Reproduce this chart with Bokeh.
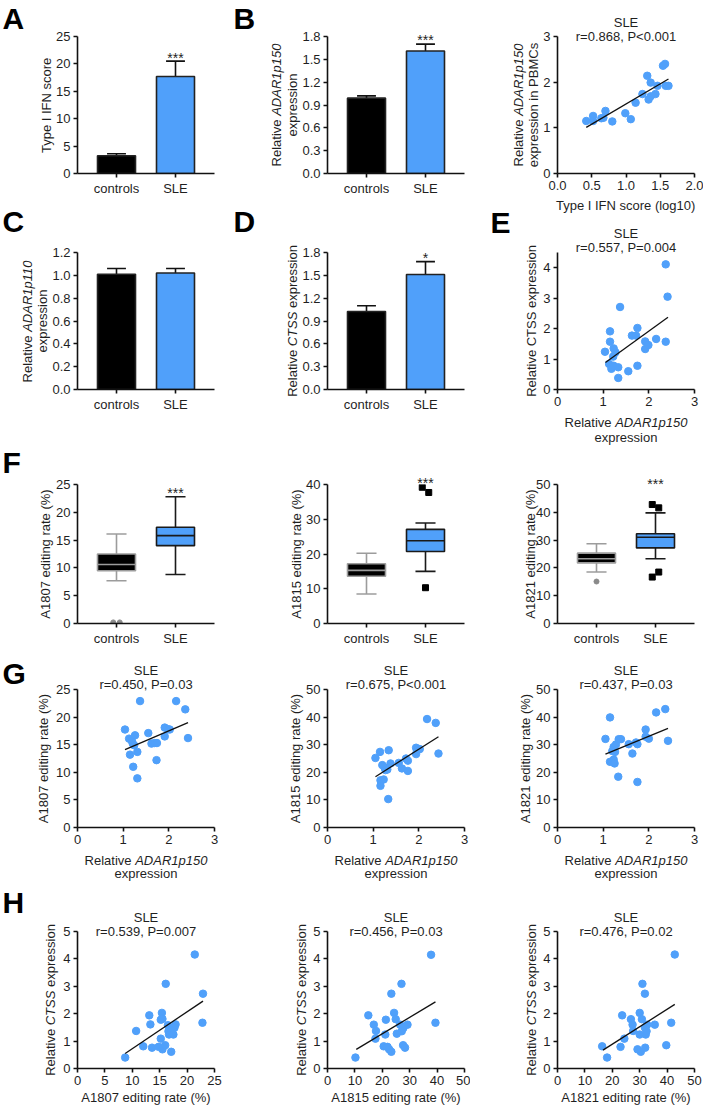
import math
from bokeh.plotting import figure
from bokeh.layouts import column, row
from bokeh.models import Label, FixedTicker, Range1d, PrintfTickFormatter
from bokeh.embed import file_html
from bokeh.resources import INLINE

FONT = "Liberation Sans"
BLUE = "#50a0fa"
INK = "#1f1f1f"
AXIS = "#111111"
GREY = "#9c9c9c"

# ------------------------------------------------------------------ data
groups = ["controls", "SLE"]

# bar panels (mean, top of SEM bar)
a_mean = [3.25, 17.7]
a_err = [3.6, 20.5]
a_star = 21.7
b_mean = [0.99, 1.61]
b_err = [1.02, 1.70]
b_star = 1.79
c_mean = [1.01, 1.02]
c_err = [1.06, 1.06]
d_mean = [1.025, 1.51]
d_err = [1.10, 1.68]
d_star = 1.77

a_yticks = [0, 5, 10, 15, 20, 25]
b_yticks = [0.0, 0.3, 0.6, 0.9, 1.2, 1.5, 1.8]
c_yticks = [0.0, 0.2, 0.4, 0.6, 0.8, 1.0, 1.2]
d_yticks = [0.0, 0.3, 0.6, 0.9, 1.2, 1.5, 1.8]

# B scatter: type I IFN score (log10) vs ADAR1p150 in PBMCs
bs_x = [0.42, 0.52, 0.52, 0.64, 0.67, 0.70, 0.80, 0.99, 1.07, 1.14, 1.24,
        1.31, 1.36, 1.33, 1.36, 1.43, 1.46, 1.54, 1.57, 1.58, 1.62]
bs_y = [1.15, 1.26, 1.15, 1.21, 1.22, 1.37, 1.14, 1.32, 1.19, 1.55, 1.74,
        2.14, 1.99, 1.62, 1.69, 1.74, 1.92, 2.36, 2.40, 1.92, 1.92]
bs_fit_x = [0.42, 1.62]
bs_fit_y = [1.01, 2.07]
bs_xticks = [0.0, 0.5, 1.0, 1.5, 2.0]
bs_yticks = [0, 1, 2, 3]

# E scatter: ADAR1p150 vs CTSS
e_x = [1.04, 1.15, 1.15, 1.13, 1.18, 1.23, 1.22, 1.23, 1.27, 1.33, 1.33, 1.37,
       1.55, 1.63, 1.72, 1.75, 1.75, 1.92, 1.92, 1.99, 2.16, 2.37, 2.37, 2.41]
e_y = [1.24, 1.91, 1.57, 0.84, 0.68, 0.78, 1.08, 1.35, 1.22, 0.73, 0.38, 2.71,
       0.60, 1.77, 1.77, 2.02, 0.78, 1.58, 1.33, 1.46, 1.66, 4.11, 1.57, 3.05]
e_fit_x = [1.05, 2.42]
e_fit_y = [0.89, 2.37]
e_xticks = [0, 1, 2, 3]
e_yticks = [0, 1, 2, 3, 4]
e_ytop = 4.5

# F box plots: whisker low, Q1, median, Q3, whisker high (controls, SLE)
f1_low = [7.7, 8.8]
f1_q1 = [9.5, 14.0]
f1_med = [10.6, 15.8]
f1_q3 = [12.5, 17.3]
f1_high = [16.1, 22.8]
f1_out_group = [0, 0]
f1_out_val = [0.2, 0.2]
f1_star = 24.1

f2_low = [8.5, 15.0]
f2_q1 = [13.6, 20.7]
f2_med = [15.3, 23.8]
f2_q3 = [17.2, 27.1]
f2_high = [20.2, 28.9]
f2_out_group = [1, 1, 1]
f2_out_val = [39.2, 37.7, 10.3]
f2_star = 41.4

f3_low = [18.5, 23.3]
f3_q1 = [21.8, 27.2]
f3_med = [23.3, 31.0]
f3_q3 = [25.3, 32.3]
f3_high = [28.7, 39.8]
f3_out_group = [0, 1, 1, 1, 1]
f3_out_val = [15.1, 42.8, 41.6, 16.7, 18.5]
f3_star = 51.1

f1_yticks = [0, 5, 10, 15, 20, 25]
f2_yticks = [0, 10, 20, 30, 40]
f3_yticks = [0, 10, 20, 30, 40, 50]

# G scatters: ADAR1p150 vs editing rates
g1_x = [1.04, 1.13, 1.15, 1.19, 1.21, 1.24, 1.26, 1.22, 1.31, 1.31, 1.37, 1.55,
        1.62, 1.69, 1.74, 1.73, 1.91, 1.91, 1.98, 2.02, 2.16, 2.36, 2.42]
g1_y = [17.75, 16.1, 13.2, 15.7, 15.2, 14.9, 16.7, 11.0, 8.9, 13.7, 22.9, 17.1,
        15.2, 15.3, 15.3, 12.2, 18.1, 16.5, 17.8, 17.75, 22.9, 21.4, 16.2]
g1_fit_x = [1.04, 2.42]
g1_fit_y = [14.1, 19.0]

g2_x = [1.05, 1.15, 1.16, 1.16, 1.20, 1.23, 1.25, 1.27, 1.31, 1.33, 1.34, 1.38,
        1.56, 1.63, 1.72, 1.76, 1.76, 1.94, 1.94, 1.96, 2.02, 2.18, 2.37, 2.43]
g2_y = [25.2, 27.4, 17.1, 15.1, 22.6, 17.4, 21.7, 20.8, 21.0, 10.3, 28.0, 23.2,
        23.4, 21.4, 25.0, 24.2, 20.5, 28.9, 26.6, 28.0, 28.4, 39.3, 37.9, 26.8]
g2_fit_x = [1.05, 2.43]
g2_fit_y = [18.4, 32.9]

g3_x = [1.05, 1.15, 1.15, 1.20, 1.23, 1.23, 1.25, 1.26, 1.28, 1.34, 1.39, 1.33,
        1.56, 1.64, 1.72, 1.75, 1.75, 1.93, 1.93, 2.00, 2.16, 2.36, 2.42]
g3_y = [32.1, 39.9, 23.8, 27.7, 29.2, 24.6, 23.2, 27.4, 30.1, 32.0, 32.0, 18.4,
        30.2, 26.8, 30.8, 30.2, 16.5, 35.5, 32.9, 32.2, 41.7, 42.9, 31.4]
g3_fit_x = [1.05, 2.42]
g3_fit_y = [26.6, 35.9]

g_xticks = [0, 1, 2, 3]
g1_yticks = [0, 5, 10, 15, 20, 25]
g23_yticks = [0, 10, 20, 30, 40, 50]

# H scatters: editing rates vs CTSS
h1_x = [8.7, 10.7, 12.0, 13.1, 13.3, 13.6, 14.8, 15.2, 15.2, 15.4, 15.5, 15.5,
        16.0, 16.1, 16.5, 16.6, 16.7, 17.1, 17.5, 17.7, 17.9, 21.4, 22.9, 22.8]
h1_y = [0.40, 1.37, 0.81, 1.94, 1.61, 0.76, 0.79, 1.09, 1.78, 2.03, 0.70, 1.81,
        0.85, 3.09, 1.58, 1.36, 1.24, 0.61, 1.24, 1.49, 1.61, 4.16, 2.73, 1.67]
h1_fit_x = [8.7, 22.9]
h1_fit_y = [0.55, 2.46]

h2_x = [10.2, 14.9, 16.9, 17.7, 17.5, 20.5, 21.3, 21.1, 21.9, 22.5, 23.3, 23.3,
        24.3, 24.9, 25.3, 26.5, 27.0, 27.1, 27.7, 27.6, 28.3, 29.2, 37.8, 39.4]
h2_y = [0.40, 1.94, 1.60, 1.37, 1.09, 0.81, 1.78, 1.24, 0.79, 0.70, 0.61, 2.73,
        2.03, 1.80, 1.27, 1.60, 3.09, 1.36, 1.48, 0.85, 0.76, 1.60, 4.15, 1.67]
h2_fit_x = [10.5, 39.4]
h2_fit_y = [0.70, 2.43]

h3_x = [16.3, 18.1, 23.0, 23.6, 24.4, 26.8, 27.4, 27.6, 29.2, 30.0, 30.0, 30.4,
        30.8, 31.0, 31.9, 31.9, 32.0, 32.2, 32.5, 32.7, 35.5, 39.7, 41.5, 42.8]
h3_y = [0.81, 0.40, 0.79, 1.94, 1.09, 1.80, 1.60, 1.37, 0.70, 2.03, 1.24, 0.61,
        1.80, 3.09, 2.73, 1.49, 0.76, 1.24, 1.36, 1.60, 1.60, 0.85, 1.67, 4.16]
h3_fit_x = [16.6, 42.8]
h3_fit_y = [0.67, 2.34]

h1_xticks = [0, 5, 10, 15, 20, 25]
h23_xticks = [0, 10, 20, 30, 40, 50]
h_yticks = [0, 1, 2, 3, 4, 5]

# ------------------------------------------------------------------ layout / style
COLS = [(77, 16), (97, 6), (87, 9)]          # border left/right per column
FW = 137
ROWS = [(36, 137, 42), (37, 137, 56), (39, 139, 27), (39, 138, 58), (46, 137, 38)]
TOTAL_W = sum(l + FW + r for l, r in COLS)
TOTAL_H = sum(t + h + b for t, h, b in ROWS)

FL, FT = [], []
_x = 0
for l, r in COLS:
    FL.append(_x + l)
    _x += l + FW + r
_y = 0
for t, h, b in ROWS:
    FT.append(_y + t)
    _y += t + h + b
FH = [h for _, h, _ in ROWS]

BAR_X = (1 - 39 / 59, 1 - 39 / 59 + FW / 59)
BAR_W = 0.644
CAP_W = 0.32
BOX_CAP_W = 0.34

WT = {' ': 278, '%': 889, '(': 333, ')': 333, ',': 278, '.': 278, '<': 584, '=': 584,
      'A': 667, 'B': 667, 'C': 722, 'D': 722, 'E': 667, 'F': 611, 'I': 278, 'L': 556,
      'M': 833, 'N': 722, 'P': 667, 'R': 722, 'S': 667, 'T': 611,
      'a': 556, 'b': 556, 'c': 500, 'd': 556, 'e': 556, 'g': 556, 'i': 222, 'l': 222,
      'm': 833, 'n': 556, 'o': 556, 'p': 556, 'r': 333, 's': 500, 't': 278, 'v': 500,
      'x': 500, 'y': 500}


def tw(s, size=13):
    return sum(WT.get(ch, 556) for ch in s) * size / 1000.0


# overlay figure that carries every text lying outside the plot frames
ov = figure(frame_width=TOTAL_W, frame_height=TOTAL_H, min_border=0, min_border_left=0,
            min_border_right=0, min_border_top=0, min_border_bottom=0,
            x_range=Range1d(0, TOTAL_W), y_range=Range1d(TOTAL_H, 0),
            x_axis_type=None, y_axis_type=None, output_backend="svg",
            toolbar_location=None, tools="", margin=(-TOTAL_H, 0, 0, 0))
ov.outline_line_color = None
ov.background_fill_color = None
ov.border_fill_color = None


def put(x, y, text, size=13, style="normal", align="center", baseline="middle",
        angle=0.0, color=INK):
    ov.add_layout(Label(x=x, y=y, text=text, text_font=FONT, text_font_size=f"{size}px",
                        text_font_style=style, text_color=color, text_align=align,
                        text_baseline=baseline, angle=angle))


def ylab(ci, ri, dx, parts):
    total = sum(tw(t) for t, _ in parts)
    x = FL[ci] + dx
    pos = FT[ri] + FH[ri] / 2 + total / 2
    for t, it in parts:
        lead = len(t) - len(t.lstrip())
        put(x, pos - tw(t[:lead]), t.strip(), style="italic" if it else "normal",
            align="left", angle=math.pi / 2)
        pos -= tw(t)


def xlab(ci, ri, below, parts):
    total = sum(tw(t) for t, _ in parts)
    y = FT[ri] + FH[ri] + below
    pos = FL[ci] + FW / 2 - total / 2
    for t, it in parts:
        lead = len(t) - len(t.lstrip())
        put(pos + tw(t[:lead]), y, t.strip(), style="italic" if it else "normal",
            align="left")
        pos += tw(t)


def letter(ch, x, y_mid):
    put(x, y_mid, ch, size=30, style="bold", align="left", baseline="middle",
        color="black")


def titles(ci, ri, r_text, above):
    cx = FL[ci] + FW / 2
    put(cx, FT[ri] - above - 14, "SLE")
    put(cx, FT[ri] - above, r_text)


def star(ci, ri, yticks, value, text):
    y0, y1 = yticks[0], yticks[-1]
    y_img = FT[ri] + FH[ri] * (y1 - value) / (y1 - y0)
    x_img = FL[ci] + (2 - BAR_X[0]) / (BAR_X[1] - BAR_X[0]) * FW
    put(x_img, y_img + 3, text, size=14)


def base(ci, ri, xr, yr, xticks, yticks, xfmt=None, yfmt=None):
    bl, br = COLS[ci]
    bt, fh, bb = ROWS[ri]
    p = figure(frame_width=FW, frame_height=fh, min_border_left=bl, min_border_right=br,
               min_border_top=bt, min_border_bottom=bb,
               x_range=Range1d(*xr), y_range=Range1d(*yr),
               output_backend="svg", toolbar_location=None, tools="")
    p.outline_line_color = None
    p.xgrid.visible = False
    p.ygrid.visible = False
    p.background_fill_color = "white"
    p.border_fill_color = "white"
    for ax in (p.xaxis[0], p.yaxis[0]):
        ax.axis_line_color = AXIS
        ax.axis_line_width = 1.6
        ax.major_tick_line_color = AXIS
        ax.major_tick_line_width = 1.6
        ax.major_tick_out = 4
        ax.major_tick_in = 0
        ax.minor_tick_line_color = None
        ax.major_label_text_font = FONT
        ax.major_label_text_font_size = "13px"
        ax.major_label_text_color = INK
        ax.major_label_standoff = 3
    p.xaxis[0].ticker = FixedTicker(ticks=xticks)
    p.yaxis[0].ticker = FixedTicker(ticks=yticks)
    if xfmt:
        p.xaxis[0].formatter = PrintfTickFormatter(format=xfmt)
    if yfmt:
        p.yaxis[0].formatter = PrintfTickFormatter(format=yfmt)
    return p


def bar_panel(ci, ri, means, errs, yticks, yfmt=None):
    p = base(ci, ri, BAR_X, (yticks[0], yticks[-1]), [1, 2], yticks, None, yfmt)
    xs = [i + 1 for i in range(len(groups))]
    p.xaxis[0].major_label_overrides = {x: g for x, g in zip(xs, groups)}
    p.segment(x0=xs, y0=means, x1=xs, y1=errs, line_color=AXIS, line_width=1.6)
    p.segment(x0=[x - CAP_W / 2 for x in xs], y0=errs, x1=[x + CAP_W / 2 for x in xs],
              y1=errs, line_color=AXIS, line_width=1.6)
    p.vbar(x=xs, width=BAR_W, bottom=0, top=means, fill_color=["black", BLUE],
           line_color="#222222", line_width=1.6)
    return p


def box_panel(ci, ri, yticks, low, q1, med, q3, high, og, ov_vals):
    p = base(ci, ri, BAR_X, (yticks[0], yticks[-1]), [1, 2], yticks)
    xs = [i + 1 for i in range(len(groups))]
    p.xaxis[0].major_label_overrides = {x: g for x, g in zip(xs, groups)}
    lc = [GREY, "#1a1a1a"]
    p.segment(x0=xs, y0=q3, x1=xs, y1=high, line_color=lc, line_width=1.6)
    p.segment(x0=xs, y0=q1, x1=xs, y1=low, line_color=lc, line_width=1.6)
    for v in (low, high):
        p.segment(x0=[x - BOX_CAP_W / 2 for x in xs], y0=v,
                  x1=[x + BOX_CAP_W / 2 for x in xs], y1=v, line_color=lc, line_width=1.6)
    p.quad(left=[x - BAR_W / 2 for x in xs], right=[x + BAR_W / 2 for x in xs],
           bottom=q1, top=q3, fill_color=["black", BLUE], line_color=lc, line_width=1.6)
    p.segment(x0=[x - BAR_W / 2 for x in xs], y0=med, x1=[x + BAR_W / 2 for x in xs],
              y1=med, line_color=lc, line_width=1.6)
    # outliers: neighbours in the same group are dodged sideways
    span = yticks[-1] - yticks[0]
    ox = []
    for i, (g, v) in enumerate(zip(og, ov_vals)):
        near = [j for j, (g2, v2) in enumerate(zip(og, ov_vals))
                if j != i and g2 == g and abs(v2 - v) < 0.06 * span]
        if near:
            ox.append(xs[g] + (-0.055 if i < near[0] else 0.055))
        else:
            ox.append(xs[g])
    cx = [x for x, g in zip(ox, og) if g == 0]
    cy = [v for v, g in zip(ov_vals, og) if g == 0]
    sx = [x for x, g in zip(ox, og) if g == 1]
    sy = [v for v, g in zip(ov_vals, og) if g == 1]
    if cx:
        p.scatter(cx, cy, marker="circle", size=5, color="#8a8a8a")
    if sx:
        p.scatter(sx, sy, marker="square", size=6, color="black")
    return p


def scatter_panel(ci, ri, x, y, fx, fy, xticks, yticks, xfmt=None, ytop=None):
    yr = (yticks[0], ytop if ytop else yticks[-1])
    p = base(ci, ri, (xticks[0], xticks[-1]), yr, xticks, yticks, xfmt)
    p.scatter(x, y, marker="circle", size=7.5, color=BLUE)
    p.line(fx, fy, line_color=AXIS, line_width=1.3)
    return p


adar_parts = [("Relative ", False), ("ADAR1p150", True)]
ctss_parts = [("Relative ", False), ("CTSS", True), (" expression", False)]

# ------------------------------------------------------------------ row 1
pA = bar_panel(0, 0, a_mean, a_err, a_yticks)
star(0, 0, a_yticks, a_star, "***")
ylab(0, 0, -31, [("Type I IFN score", False)])
letter("A", 2, 18)

pB = bar_panel(1, 0, b_mean, b_err, b_yticks, "%.1f")
star(1, 0, b_yticks, b_star, "***")
ylab(1, 0, -51, adar_parts)
ylab(1, 0, -35, [("expression", False)])
letter("B", 233, 18)

pBs = scatter_panel(2, 0, bs_x, bs_y, bs_fit_x, bs_fit_y, bs_xticks, bs_yticks, "%.1f")
titles(2, 0, "r=0.868, P<0.001", 0)
ylab(2, 0, -39, adar_parts)
ylab(2, 0, -24, [("expression in PBMCs", False)])
xlab(2, 0, 32, [("Type I IFN score (log10)", False)])

# ------------------------------------------------------------------ row 2
pC = bar_panel(0, 1, c_mean, c_err, c_yticks, "%.1f")
ylab(0, 1, -50, [("Relative ", False), ("ADAR1p110", True)])
ylab(0, 1, -35, [("expression", False)])
letter("C", 2, 221)

pD = bar_panel(1, 1, d_mean, d_err, d_yticks, "%.1f")
star(1, 1, d_yticks, d_star, "*")
ylab(1, 1, -35, ctss_parts)
letter("D", 233, 221)

pE = scatter_panel(2, 1, e_x, e_y, e_fit_x, e_fit_y, e_xticks, e_yticks, None, e_ytop)
titles(2, 1, "r=0.557, P=0.004", 5)
ylab(2, 1, -26, [("Relative CTSS expression", False)])
xlab(2, 1, 33, adar_parts)
xlab(2, 1, 48, [("expression", False)])
letter("E", 490, 222)

# ------------------------------------------------------------------ row 3
pF1 = box_panel(0, 2, f1_yticks, f1_low, f1_q1, f1_med, f1_q3, f1_high, f1_out_group, f1_out_val)
star(0, 2, f1_yticks, f1_star, "***")
ylab(0, 2, -32, [("A1807 editing rate (%)", False)])
letter("F", 2, 462)

pF2 = box_panel(1, 2, f2_yticks, f2_low, f2_q1, f2_med, f2_q3, f2_high, f2_out_group, f2_out_val)
star(1, 2, f2_yticks, f2_star, "***")
ylab(1, 2, -31, [("A1815 editing rate (%)", False)])

pF3 = box_panel(2, 2, f3_yticks, f3_low, f3_q1, f3_med, f3_q3, f3_high, f3_out_group, f3_out_val)
star(2, 2, f3_yticks, f3_star, "***")
ylab(2, 2, -27, [("A1821 editing rate (%)", False)])

# ------------------------------------------------------------------ row 4
pG1 = scatter_panel(0, 3, g1_x, g1_y, g1_fit_x, g1_fit_y, g_xticks, g1_yticks)
titles(0, 3, "r=0.450, P=0.03", 5)
ylab(0, 3, -34, [("A1807 editing rate (%)", False)])
letter("G", 2, 673)

pG2 = scatter_panel(1, 3, g2_x, g2_y, g2_fit_x, g2_fit_y, g_xticks, g23_yticks)
titles(1, 3, "r=0.675, P<0.001", 5)
ylab(1, 3, -32, [("A1815 editing rate (%)", False)])

pG3 = scatter_panel(2, 3, g3_x, g3_y, g3_fit_x, g3_fit_y, g_xticks, g23_yticks)
titles(2, 3, "r=0.437, P=0.03", 5)
ylab(2, 3, -32, [("A1821 editing rate (%)", False)])

for ci in range(3):
    xlab(ci, 3, 33, adar_parts)
    xlab(ci, 3, 46, [("expression", False)])

# ------------------------------------------------------------------ row 5
pH1 = scatter_panel(0, 4, h1_x, h1_y, h1_fit_x, h1_fit_y, h1_xticks, h_yticks)
titles(0, 4, "r=0.539, P=0.007", 0)
ylab(0, 4, -27, ctss_parts)
xlab(0, 4, 29, [("A1807 editing rate (%)", False)])
letter("H", 2, 902)

pH2 = scatter_panel(1, 4, h2_x, h2_y, h2_fit_x, h2_fit_y, h23_xticks, h_yticks)
titles(1, 4, "r=0.456, P=0.03", 0)
ylab(1, 4, -26, ctss_parts)
xlab(1, 4, 29, [("A1815 editing rate (%)", False)])

pH3 = scatter_panel(2, 4, h3_x, h3_y, h3_fit_x, h3_fit_y, h23_xticks, h_yticks)
titles(2, 4, "r=0.476, P=0.02", 0)
ylab(2, 4, -26, ctss_parts)
xlab(2, 4, 29, [("A1821 editing rate (%)", False)])

layout = column(
    row(pA, pB, pBs),
    row(pC, pD, pE),
    row(pF1, pF2, pF3),
    row(pG1, pG2, pG3),
    row(pH1, pH2, pH3),
    ov,
)

open("out.html", "w").write(file_html(layout, INLINE))
